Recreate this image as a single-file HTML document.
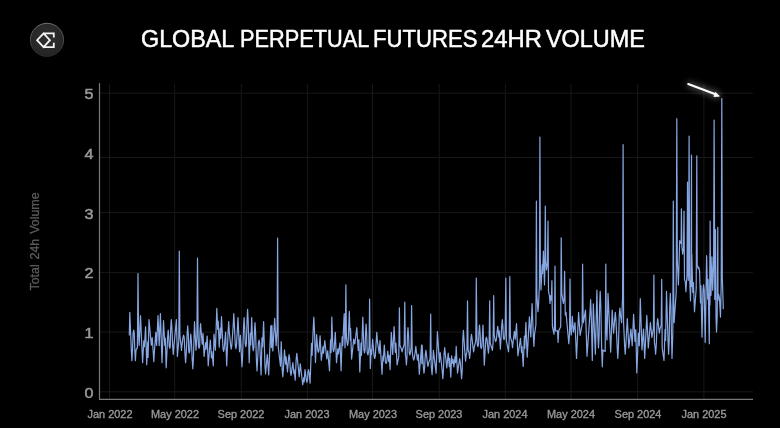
<!DOCTYPE html>
<html><head><meta charset="utf-8">
<style>
html,body{margin:0;padding:0;background:#000;}
body{width:780px;height:429px;position:relative;overflow:hidden;filter:blur(0.4px);font-family:"Liberation Sans",sans-serif;}
.tw{position:absolute;top:24px;font-size:24px;line-height:30px;color:#fff;white-space:nowrap;transform-origin:0 0;-webkit-text-stroke:0.5px #fff;}
.yl{position:absolute;left:60px;width:33.5px;text-align:right;font-size:14px;line-height:16px;color:#999;-webkit-text-stroke:0.5px #999;transform:scaleX(1.15);transform-origin:100% 50%;}
.xl{position:absolute;top:407px;width:80px;text-align:center;font-size:10.5px;line-height:14px;color:#999;-webkit-text-stroke:0.35px #999;transform:scaleX(1.04);}
.ytitle{position:absolute;left:0;top:0;width:120px;height:16px;line-height:16px;text-align:center;transform:translate(-25px,233.5px) rotate(-90deg);font-size:12.4px;word-spacing:1.5px;color:#5c5c5c;-webkit-text-stroke:0.3px #5c5c5c;white-space:nowrap;}
.bottom{position:absolute;left:0;top:428px;width:780px;height:1px;background:#fff;}
svg{position:absolute;left:0;top:0;}
.g{stroke:#181818;stroke-width:1;}
</style></head><body>
<svg width="780" height="429" viewBox="0 0 780 429">
<defs>
<radialGradient id="lg" cx="50%" cy="40%" r="60%"><stop offset="0" stop-color="#303030"/><stop offset="1" stop-color="#242424"/></radialGradient><linearGradient id="ring" x1="0" y1="0" x2="0" y2="1"><stop offset="0" stop-color="#707070"/><stop offset="0.6" stop-color="#444"/><stop offset="1" stop-color="#262626"/></linearGradient>
<filter id="glow" x="-50%" y="-100%" width="200%" height="300%"><feGaussianBlur stdDeviation="3.5" result="b"/><feComponentTransfer in="b" result="b2"><feFuncA type="linear" slope="0.8"/></feComponentTransfer><feMerge><feMergeNode in="b2"/><feMergeNode in="SourceGraphic"/></feMerge></filter>
</defs>
<circle cx="47" cy="39.9" r="16.6" fill="url(#lg)" stroke="url(#ring)" stroke-width="1"/>
<path d="M43.6,33.4 L37.1,40.2 L43.6,47.1 L49.9,40.2 Z M43.6,33.4 H53.8 V37.6 M43.6,47.1 H53.8 V42.8" fill="none" stroke="#f2f2f2" stroke-width="1.8" stroke-linejoin="miter"/>
<line x1="100" y1="391.8" x2="753" y2="391.8" class="g"/><line x1="100" y1="332.1" x2="753" y2="332.1" class="g"/><line x1="100" y1="272.4" x2="753" y2="272.4" class="g"/><line x1="100" y1="212.6" x2="753" y2="212.6" class="g"/><line x1="100" y1="157.5" x2="753" y2="157.5" class="g"/><line x1="100" y1="93.2" x2="753" y2="93.2" class="g"/><line x1="109.5" y1="84" x2="109.5" y2="399" class="g"/><line x1="174.6" y1="84" x2="174.6" y2="399" class="g"/><line x1="241.3" y1="84" x2="241.3" y2="399" class="g"/><line x1="307.4" y1="84" x2="307.4" y2="399" class="g"/><line x1="372.5" y1="84" x2="372.5" y2="399" class="g"/><line x1="439.2" y1="84" x2="439.2" y2="399" class="g"/><line x1="505.4" y1="84" x2="505.4" y2="399" class="g"/><line x1="571.0" y1="84" x2="571.0" y2="399" class="g"/><line x1="637.7" y1="84" x2="637.7" y2="399" class="g"/><line x1="703.9" y1="84" x2="703.9" y2="399" class="g"/>
<line x1="99.5" y1="83.2" x2="99.5" y2="399.4" stroke="#7a7a7a" stroke-width="1.2"/>
<line x1="99" y1="399.4" x2="753" y2="399.4" stroke="#7a7a7a" stroke-width="1.2"/>
<path d="M129.3,335.0 L129.8,312.4 L131.3,349.9 L131.9,360.6 L132.5,349.9 L133.1,333.2 L133.7,330.0 L134.2,333.2 L134.8,350.1 L135.4,360.6 L136.0,350.1 L137.4,347.6 L138.0,273.6 L138.6,334.6 L139.2,345.4 L140.5,315.5 L142.6,362.7 L143.8,340.9 L144.4,346.8 L145.6,326.8 L146.7,364.7 L147.8,341.8 L148.1,357.5 L149.0,319.6 L151.3,345.3 L152.2,337.7 L153.2,351.7 L153.8,361.7 L154.4,351.7 L155.8,332.3 L156.6,345.5 L158.0,315.5 L159.2,345.6 L160.4,313.5 L162.0,362.7 L163.5,320.6 L164.8,345.4 L165.3,338.0 L166.2,367.8 L167.6,337.7 L168.2,330.0 L168.8,337.7 L169.2,346.0 L169.8,348.4 L170.3,346.0 L170.7,328.3 L171.3,319.6 L171.9,328.3 L172.7,346.6 L173.3,354.5 L173.9,346.6 L176.4,319.6 L177.4,356.5 L178.8,340.7 L179.3,251.2 L179.9,335.5 L180.9,344.1 L181.5,350.4 L182.1,344.1 L183.0,337.3 L183.6,335.1 L184.2,337.3 L185.0,354.1 L185.6,362.7 L186.2,354.1 L187.1,334.5 L187.7,325.8 L188.3,334.5 L188.7,350.8 L189.2,353.2 L189.8,350.8 L190.2,341.4 L190.8,334.0 L191.4,341.4 L192.2,359.5 L192.8,368.8 L193.4,359.5 L194.5,321.7 L196.0,350.2 L196.9,336.4 L197.5,258.2 L198.1,334.9 L198.5,345.8 L199.1,348.4 L199.7,345.8 L200.0,331.9 L200.6,323.7 L201.2,331.9 L202.2,344.3 L203.0,333.4 L204.1,356.5 L205.6,342.5 L206.1,349.2 L207.2,336.0 L208.2,365.8 L210.3,340.0 L211.4,357.8 L211.9,351.7 L213.3,365.8 L214.0,334.0 L215.4,350.2 L216.8,308.3 L217.7,329.5 L218.2,321.0 L219.2,347.1 L220.2,328.1 L220.7,338.4 L221.5,316.5 L223.0,348.5 L223.6,351.3 L224.2,348.5 L225.6,332.0 L226.7,365.8 L228.1,331.7 L228.7,321.7 L229.3,331.7 L230.7,345.8 L231.2,349.1 L231.8,345.8 L233.2,325.4 L233.8,313.5 L234.4,325.4 L235.3,345.2 L235.9,348.6 L236.5,345.2 L238.0,317.6 L239.5,351.6 L240.4,335.3 L241.4,355.7 L242.0,366.8 L242.6,355.7 L243.5,328.4 L244.1,317.6 L244.7,328.4 L245.2,343.3 L245.8,346.7 L246.4,343.3 L247.0,321.6 L247.6,309.4 L248.2,321.6 L249.2,362.7 L250.3,333.0 L250.7,345.0 L251.7,317.6 L252.8,347.5 L253.3,350.6 L253.9,347.5 L254.4,333.1 L255.0,322.7 L255.6,333.1 L256.4,360.0 L257.0,370.9 L257.6,360.0 L258.4,343.4 L259.1,340.0 L259.7,343.4 L261.1,375.0 L262.0,337.8 L262.6,346.8 L263.6,321.7 L265.0,366.2 L265.6,374.0 L266.2,366.2 L267.3,354.5 L268.7,375.0 L270.8,325.8 L271.4,347.6 L271.9,325.3 L272.8,351.0 L274.7,318.3 L276.1,345.6 L277.1,329.5 L277.6,238.2 L278.2,346.9 L280.5,366.1 L281.2,341.6 L282.2,369.6 L282.8,376.6 L283.4,369.6 L284.5,349.8 L285.6,364.1 L286.1,356.9 L287.5,372.0 L288.5,358.8 L289.1,354.5 L289.7,358.8 L290.4,371.7 L291.0,375.5 L291.6,371.7 L292.9,362.6 L293.9,373.6 L294.2,369.8 L295.2,380.1 L296.2,359.0 L296.8,353.3 L297.4,359.0 L299.2,376.6 L300.3,363.8 L302.7,384.8 L303.8,377.7 L304.2,381.8 L305.0,369.6 L306.3,379.6 L306.9,382.5 L307.5,379.6 L307.9,372.6 L308.5,369.6 L309.1,372.6 L310.1,383.2 L311.5,343.4 L312.1,355.4 L313.2,328.9 L313.8,317.2 L314.4,328.9 L315.5,362.6 L316.6,334.6 L317.8,350.5 L318.4,352.3 L319.0,350.5 L320.1,335.8 L321.3,360.3 L323.0,346.6 L323.5,353.2 L324.8,340.5 L326.8,359.0 L327.7,350.9 L329.5,370.8 L330.5,339.9 L331.1,352.5 L331.8,317.2 L332.9,348.8 L333.6,351.6 L334.2,348.8 L335.3,332.3 L336.5,362.6 L337.8,348.8 L338.4,353.9 L340.0,342.8 L341.1,370.8 L342.2,336.8 L342.7,345.6 L344.2,313.7 L345.0,347.8 L345.3,338.4 L345.9,284.8 L346.4,336.4 L347.0,342.1 L347.6,345.5 L348.2,342.1 L349.3,311.3 L350.3,340.3 L350.6,328.7 L351.6,359.1 L353.7,339.2 L354.8,344.0 L356.8,327.7 L358.2,350.4 L358.9,339.7 L359.8,372.0 L361.0,343.1 L361.5,355.3 L362.8,317.2 L363.9,349.7 L364.5,353.0 L365.1,349.7 L365.5,334.5 L366.1,324.2 L366.7,334.5 L367.2,352.2 L367.9,354.9 L368.5,352.2 L369.1,346.6 L369.6,299.2 L370.3,368.5 L371.2,349.7 L371.6,354.3 L372.6,339.3 L374.1,356.1 L374.7,358.5 L375.3,356.1 L376.2,341.2 L376.8,332.3 L377.4,341.2 L379.2,353.5 L380.0,340.5 L382.0,374.3 L382.9,356.1 L383.3,361.0 L384.3,345.1 L385.4,362.0 L386.1,363.6 L386.7,362.0 L387.8,351.0 L388.7,361.4 L389.2,355.4 L390.1,369.6 L391.3,332.3 L392.7,354.4 L394.1,326.5 L395.3,352.3 L395.9,343.1 L397.1,365.0 L398.8,356.4 L399.4,307.8 L399.9,345.2 L401.5,349.2 L402.1,351.8 L402.7,349.2 L404.2,344.3 L404.8,302.0 L405.4,355.6 L405.8,356.6 L406.4,365.0 L407.0,356.6 L407.4,336.4 L408.0,327.7 L408.6,336.4 L409.2,352.6 L409.8,355.0 L410.4,352.6 L411.1,347.6 L411.6,305.5 L412.2,351.9 L413.1,358.2 L413.7,360.1 L414.3,358.2 L415.2,352.0 L415.8,346.3 L416.4,352.0 L417.4,360.2 L418.3,354.4 L419.3,374.3 L421.6,345.1 L421.9,363.7 L422.1,345.1 L423.4,367.5 L424.0,373.2 L424.6,367.5 L425.3,354.8 L425.9,350.4 L426.5,354.8 L427.4,362.9 L428.0,366.5 L428.6,362.9 L430.1,358.7 L430.7,314.2 L431.2,365.5 L432.1,374.6 L433.4,350.4 L436.1,373.2 L437.4,331.7 L439.4,362.1 L440.2,352.5 L442.2,370.7 L442.8,378.6 L443.4,370.7 L444.1,353.5 L444.7,347.7 L445.3,353.5 L446.8,367.9 L448.2,353.1 L449.3,366.4 L449.7,358.4 L450.8,377.2 L451.6,355.8 L452.4,363.2 L453.0,359.4 L453.9,366.9 L455.0,356.5 L455.6,362.6 L456.2,346.4 L457.5,373.2 L459.1,362.5 L459.7,358.5 L460.3,362.5 L461.0,370.8 L461.6,378.6 L462.2,370.8 L462.8,339.4 L463.4,330.3 L464.0,339.4 L465.0,354.5 L465.6,361.2 L466.2,354.5 L466.9,352.1 L467.5,300.8 L468.1,349.8 L469.0,352.8 L469.6,358.5 L470.2,352.8 L470.9,339.0 L471.5,334.3 L472.1,339.0 L473.0,347.3 L473.6,351.8 L474.2,347.3 L475.8,340.7 L476.3,278.0 L476.9,336.3 L477.3,344.5 L477.9,346.6 L478.5,344.5 L478.9,332.7 L479.5,325.0 L480.1,332.7 L480.6,346.2 L481.2,348.6 L481.9,346.2 L483.0,325.0 L484.3,365.2 L485.8,339.4 L486.4,337.1 L487.0,339.4 L488.4,353.1 L489.1,345.3 L489.7,300.8 L490.2,343.0 L492.4,350.4 L493.1,342.2 L493.7,295.5 L494.2,334.6 L495.1,340.0 L495.7,341.6 L496.3,340.0 L497.7,326.3 L498.8,336.9 L499.2,330.8 L500.4,349.1 L501.7,326.4 L502.3,319.6 L502.9,326.4 L503.4,337.7 L504.1,339.7 L504.7,337.7 L505.2,330.5 L505.8,278.0 L506.4,340.7 L508.5,351.8 L509.2,340.5 L509.8,276.7 L510.4,337.1 L511.9,342.0 L512.5,347.7 L513.1,342.0 L514.4,331.3 L515.3,339.2 L516.5,323.6 L517.9,355.8 L520.5,338.4 L521.5,352.3 L522.0,346.4 L523.2,366.5 L524.4,336.2 L524.8,348.3 L525.9,322.3 L527.2,357.1 L529.4,316.9 L530.8,337.0 L532.1,303.5 L533.3,334.9 L533.9,346.4 L534.5,334.9 L535.9,324.6 L536.4,201.0 L536.9,295.0 L537.4,303.6 L538.0,311.6 L538.6,303.6 L539.4,285.4 L539.9,137.2 L540.4,267.1 L541.0,290.0 L542.2,264.8 L542.6,273.4 L543.4,251.0 L544.5,285.0 L544.8,273.1 L545.3,206.0 L545.8,260.4 L546.5,270.0 L547.5,262.6 L548.0,221.0 L548.5,291.1 L549.4,295.7 L550.0,303.5 L550.6,295.7 L551.4,300.1 L551.9,280.7 L552.4,326.3 L554.0,334.3 L554.5,324.1 L555.0,266.0 L555.5,330.9 L557.5,330.8 L558.1,342.4 L558.7,330.8 L560.7,326.7 L561.2,237.8 L561.8,293.6 L563.4,303.5 L564.1,298.7 L564.6,271.4 L565.3,315.1 L566.0,312.3 L568.8,343.7 L569.5,334.0 L570.0,279.0 L570.5,326.6 L571.3,335.0 L572.3,316.4 L573.4,332.2 L575.0,322.7 L576.5,358.4 L578.6,312.3 L580.1,335.3 L582.1,324.6 L582.6,264.0 L583.1,313.9 L583.4,322.7 L585.5,310.2 L587.0,356.3 L590.0,313.1 L590.6,299.7 L591.2,313.1 L592.3,360.5 L593.3,303.9 L595.4,354.2 L596.9,290.2 L597.9,335.0 L598.5,347.9 L599.1,335.0 L599.6,305.9 L600.2,291.3 L600.8,305.9 L601.7,349.9 L602.3,366.8 L602.9,349.9 L605.2,351.4 L605.8,264.0 L606.3,328.6 L607.0,340.0 L608.0,293.4 L610.7,352.1 L612.2,310.2 L613.6,333.2 L614.7,319.3 L615.3,312.3 L615.9,319.3 L617.2,347.5 L617.8,358.4 L618.4,347.5 L619.3,314.9 L619.9,308.0 L620.5,314.9 L621.6,322.7 L622.6,296.0 L623.1,144.7 L623.6,322.8 L624.6,345.5 L625.2,354.2 L625.8,345.5 L627.3,318.5 L628.8,347.9 L630.9,329.0 L632.2,345.8 L633.6,314.3 L635.0,341.4 L635.8,329.5 L636.8,373.0 L638.4,333.2 L639.3,345.7 L640.3,298.6 L642.0,350.0 L643.5,329.0 L644.7,358.4 L646.8,315.4 L648.3,347.9 L650.4,322.7 L651.9,337.4 L653.4,328.1 L653.9,275.2 L654.4,342.3 L655.0,346.4 L655.6,354.2 L656.2,346.4 L657.1,323.9 L657.7,318.5 L658.3,323.9 L658.8,328.7 L659.4,333.2 L660.0,328.7 L661.2,325.1 L661.7,279.4 L662.2,348.3 L664.0,360.5 L665.1,329.3 L665.6,340.5 L666.5,291.3 L668.0,340.3 L668.6,354.2 L669.2,340.3 L669.7,307.6 L670.3,293.4 L670.9,307.6 L672.0,358.4 L672.8,334.8 L673.3,201.0 L673.8,304.4 L674.1,322.7 L676.2,292.1 L676.8,118.7 L677.3,260.1 L678.4,285.0 L679.7,240.7 L681.1,243.4 L681.4,208.8 L681.9,247.3 L682.7,254.1 L683.5,247.6 L684.0,211.0 L684.5,279.6 L685.3,281.8 L685.9,291.7 L686.5,281.8 L687.0,275.2 L687.5,182.0 L688.0,265.6 L688.3,280.3 L688.6,258.7 L689.1,136.0 L689.6,276.2 L690.5,301.0 L691.0,279.1 L691.5,155.2 L691.6,286.5 L691.8,254.1 L692.8,292.4 L693.4,282.7 L694.5,311.8 L696.2,288.4 L696.8,155.9 L697.2,264.9 L698.2,268.6 L698.6,267.0 L699.6,271.0 L700.5,302.8 L700.9,285.6 L702.0,337.2 L703.0,290.6 L703.6,284.9 L704.2,290.6 L705.2,342.6 L706.6,255.5 L707.7,299.1 L708.1,279.3 L709.3,343.7 L709.9,252.8 L710.0,304.8 L710.1,221.1 L710.6,284.2 L711.0,295.3 L711.9,256.8 L712.7,290.3 L713.6,264.8 L714.1,120.0 L714.8,299.5 L715.0,289.1 L715.5,229.7 L716.0,316.6 L716.5,331.9 L717.2,316.2 L717.8,227.4 L718.0,300.4 L718.3,294.8 L718.6,294.3 L719.5,298.6 L720.5,317.1 L721.2,284.3 L721.8,98.6 L722.3,277.2 L723.3,308.7" fill="none" stroke="#87a7e3" stroke-width="1.2" stroke-linejoin="round" stroke-linecap="round"/>
<g filter="url(#glow)"><line x1="688.2" y1="84" x2="715.5" y2="94.3" stroke="#fff" stroke-width="2.0" stroke-linecap="round"/><path d="M719.4,96.2 L713.9,96.4 L715.6,92.4 Z" fill="#fff" stroke="#fff" stroke-width="0.9" stroke-linejoin="round"/></g>
</svg>
<div class="tw" style="left:140.7px;transform:scaleX(0.9716)">GLOBAL</div><div class="tw" style="left:240.2px;transform:scaleX(0.9057)">PERPETUAL</div><div class="tw" style="left:373.2px;transform:scaleX(0.9209)">FUTURES</div><div class="tw" style="left:481.2px;transform:scaleX(0.9915)">24HR</div><div class="tw" style="left:546.3px;transform:scaleX(0.9752)">VOLUME</div>
<div class="yl" style="top:384.8px">0</div><div class="yl" style="top:325.1px">1</div><div class="yl" style="top:265.4px">2</div><div class="yl" style="top:205.6px">3</div><div class="yl" style="top:145.9px">4</div><div class="yl" style="top:86.2px">5</div>
<div class="xl" style="left:69.5px">Jan 2022</div><div class="xl" style="left:134.6px">May 2022</div><div class="xl" style="left:201.3px">Sep 2022</div><div class="xl" style="left:267.4px">Jan 2023</div><div class="xl" style="left:332.5px">May 2023</div><div class="xl" style="left:399.2px">Sep 2023</div><div class="xl" style="left:465.4px">Jan 2024</div><div class="xl" style="left:531.0px">May 2024</div><div class="xl" style="left:597.7px">Sep 2024</div><div class="xl" style="left:663.9px">Jan 2025</div>
<div class="ytitle">Total 24h Volume</div>
<div class="bottom"></div>
</body></html>
